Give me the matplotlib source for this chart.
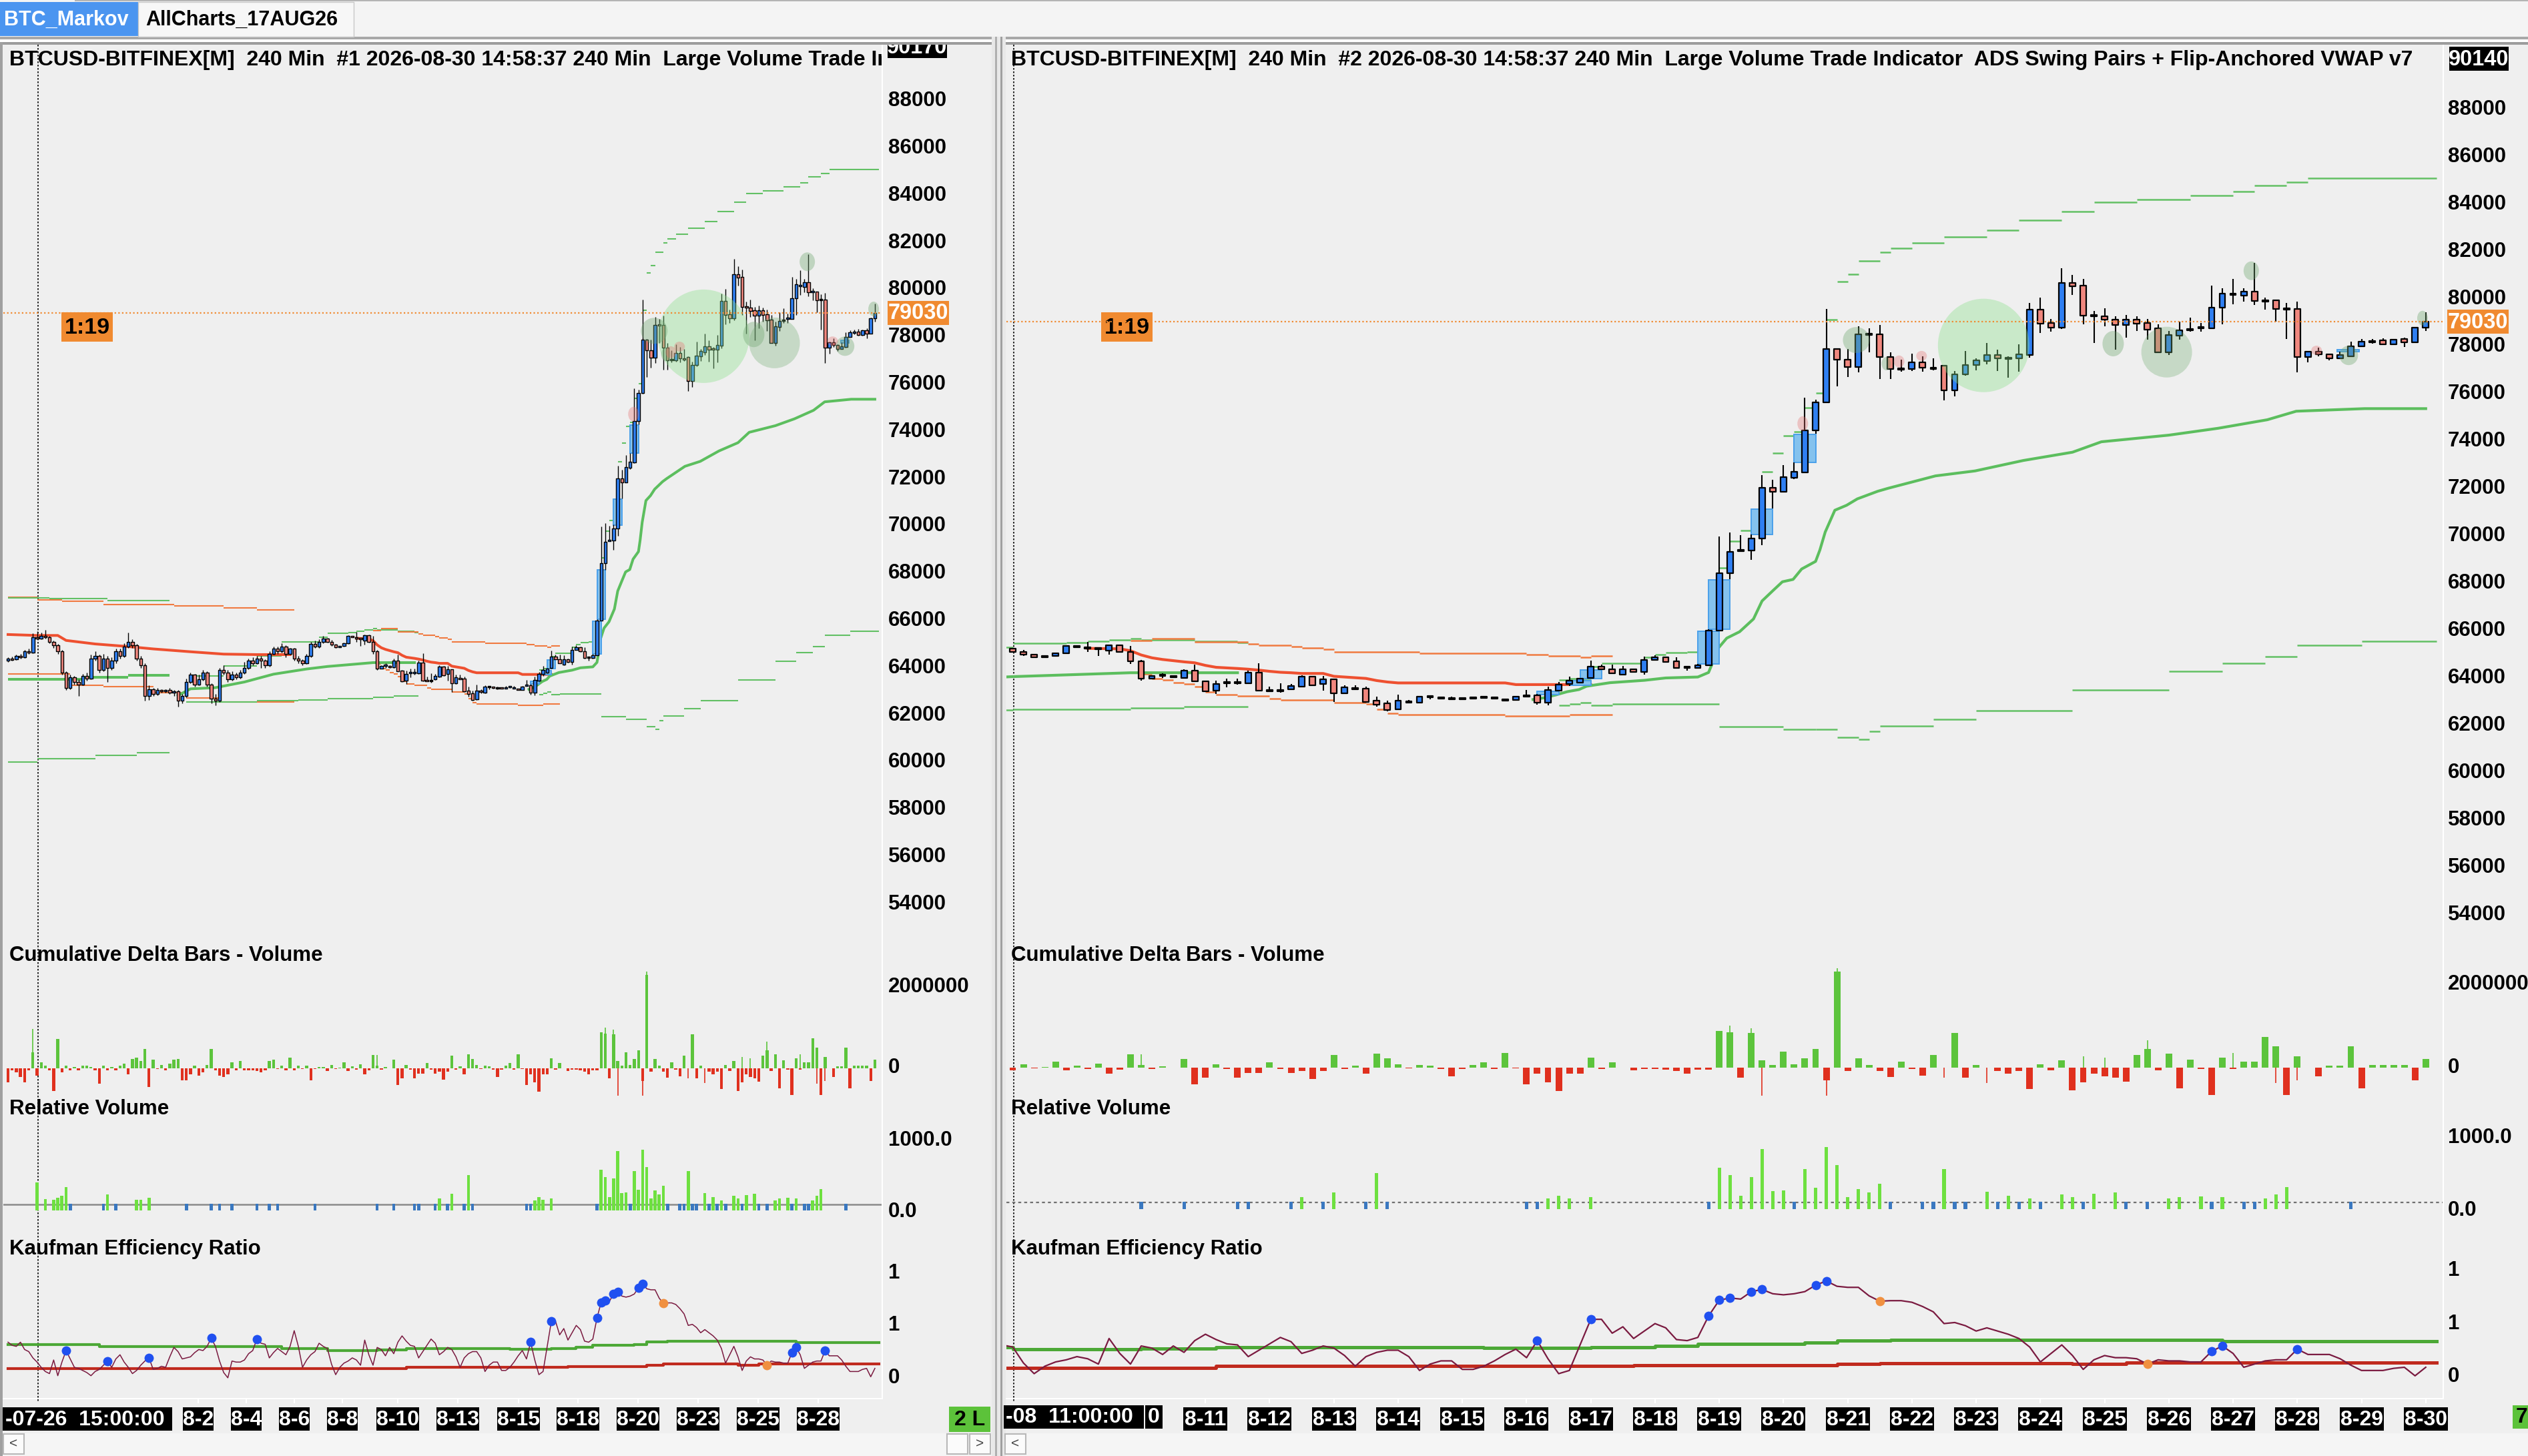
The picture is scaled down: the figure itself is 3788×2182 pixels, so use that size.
import matplotlib
matplotlib.use("Agg")
import matplotlib.pyplot as plt
from matplotlib.patches import Rectangle, Ellipse
from matplotlib.collections import PatchCollection, LineCollection
from matplotlib import font_manager as fm

# ======================= DATA =======================
# 4-hour BTCUSD bars. bar 0 = 2026-07-26 15:00, bar 77 = 2026-08-08 11:00, bar 209 = 2026-08-30 11:00
open_early = [64300,64400,64350,64500,64450,64700,64650,65300,65250,65350,
              65300,65100,64950,64700,63800,63150,63600,63400,63300,63650,
              63550,64400,64500,63900,64400,64000,64300,64700,64500,64900,
              65100,64950,64400,64100,62800,63100,62900,63050,63000,63050,
              62950,63000,62600,62800,63400,63700,63300,63500,63800,63300,
              62700,62600,63900,63800,63500,63700,63600,63800,64000,64300,
              64200,64400,64300,64100,64600,64800,64700,64900,64600,64800,
              64400,64300,64200,64500,65000,64900,65100]
close_early = [64400,64350,64500,64450,64700,64650,65300,65250,65350,65300,
               65100,64950,64700,63800,63150,63600,63400,63300,63650,63550,
               64400,64500,63900,64400,64000,64300,64700,64500,64900,65100,
               64950,64400,64100,62800,63100,62900,63050,63000,63050,62950,
               63000,62600,62800,63400,63700,63300,63500,63800,63300,62700,
               62600,63900,63800,63500,63700,63600,63800,64000,64300,64200,
               64400,64300,64100,64600,64800,64700,64900,64600,64800,64400,
               64300,64200,64500,65000,64900,65100,65250]
high_early = [64450,64480,64560,64600,64760,64800,65450,65550,65500,65600,
              65350,65150,65000,64750,63850,63700,63650,63500,63750,63800,
              64550,64700,64550,64600,64500,64450,64800,64800,65050,65500,
              65200,65000,64500,64200,63250,63150,63150,63100,63100,63150,
              63050,63050,62900,63550,63800,63750,63700,63900,63850,63350,
              62900,64000,64100,63900,63850,63800,63900,64250,64400,64450,
              64500,64500,64350,64700,64900,64900,65050,64950,64850,64850,
              64500,64350,64600,65100,65150,65200,65350]
low_early = [64250,64300,64320,64400,64420,64600,64620,65200,65200,65250,
             65050,64850,64600,63700,63050,63100,63300,62800,63250,63450,
             63500,64300,63800,63850,63400,63900,64200,64400,64450,64850,
             64850,64300,64000,62600,62650,62800,62850,62950,62950,62900,
             62800,62350,62500,62750,63350,63200,63250,63450,63200,62500,
             62400,62550,63700,63400,63450,63500,63550,63750,63950,64100,
             64150,64000,64000,64050,64550,64600,64650,64450,64550,64300,
             64200,64100,64150,64450,64850,64850,65050]

open_recent = [65230,65110,64990,64880,64920,65030,65320,65260,65250,65150,
               65390,65110,64710,63980,64100,64080,64010,64310,63870,63460,
               63780,63800,63770,64220,63480,63460,63510,63620,64050,63750,
               63930,63340,63560,63540,63030,62920,62670,63000,62950,63200,
               63180,63140,63140,63130,63190,63150,63090,63060,63240,63270,
               62950,63460,63740,63800,63990,64480,64370,64140,64370,64250,
               64770,64880,64700,64440,64420,64540,66010,68430,69380,69380,
               69890,72020,71860,72460,72690,74450,75630,77900,77430,77140,
               78510,78510,77550,77050,77030,77330,77080,77170,76140,76820,
               77200,77370,77620,77500,77480,77640,79540,78980,78790,80670,
               80550,79300,79260,79140,78900,79140,78980,78750,77760,78440,
               78700,78770,78770,79630,80180,80130,80320,79925,79930,79590,
               79590,77550,77780,77670,77490,77590,78000,78200,78240,78090,
               78300,78160,78800]
close_recent = [65110,64980,64860,64900,65050,65340,65300,65250,65240,65390,
                65110,64710,63960,64090,64120,64040,64310,63860,63440,63750,
                63800,63810,64220,63460,63460,63460,63650,64050,63680,63930,
                63340,63600,63540,62995,62880,62650,63030,62990,63210,63200,
                63150,63140,63130,63170,63200,63170,63070,63210,63260,62950,
                63480,63730,63900,63980,64480,64370,64200,64370,64250,64770,
                64880,64690,64420,64440,64540,66010,68430,69330,69400,69890,
                72020,71860,72490,72710,74450,75630,77900,77435,77140,78510,
                78500,77560,77030,77050,77330,77100,77070,76140,76830,77220,
                77400,77620,77480,77490,77670,79540,78950,78790,80670,80530,
                79290,79280,79120,78900,79140,78950,78710,77760,78470,78690,
                78700,78800,79640,80230,80190,80320,79910,79930,79570,79590,
                77550,77780,77660,77490,77620,78000,78190,78210,78090,78290,
                78160,78800,79030]
high_recent = [65260,65180,65020,64920,65070,65390,65330,65510,65270,65410,
               65400,65340,64750,64120,64200,64110,64380,64570,63900,63880,
               63960,63960,64300,64620,63640,63770,63750,64100,64080,64090,
               63950,63700,63700,63620,63200,63040,63300,63080,63250,63230,
               63190,63200,63170,63220,63230,63220,63100,63230,63480,63320,
               63630,63830,64070,64000,64730,64560,64570,64520,64400,64900,
               64960,64900,64880,64480,64580,66050,69970,70130,70020,70070,
               72550,72380,73000,73100,75820,75760,79590,77920,77900,78850,
               78760,78900,77740,77450,77690,77570,77500,77200,76960,77800,
               77500,78140,77860,77570,78080,79830,80050,79160,81300,81010,
               80850,79500,79600,79270,79320,79260,79150,78930,78650,79040,
               79210,78990,80560,80450,80840,80450,81520,80060,79930,79820,
               79880,77800,77950,77690,77780,78190,78300,78310,78350,78320,
               78360,78820,79430]
low_recent = [65080,64930,64840,64860,64900,65010,65280,65100,64920,64990,
              65080,64600,63900,63960,64000,64000,63990,63840,63400,63330,
              63600,63720,63740,63440,63430,63380,63480,63600,63660,63460,
              62990,63320,63520,62980,62780,62600,62650,62930,62930,63100,
              63130,63090,63110,63120,63140,63130,63060,63050,63230,62860,
              62840,63440,63650,63780,63960,64350,64180,64120,64230,64140,
              64760,64680,64400,64300,64400,64520,65990,68160,69360,69000,
              69600,71160,71840,72400,72670,74300,75610,76300,76700,76900,
              77750,76630,76630,76920,76970,76920,77000,75720,75900,76750,
              76980,77250,76960,76680,76920,77530,78550,78610,78720,80180,
              78940,78150,78840,77870,78380,78650,78270,77760,77640,78270,
              78610,78610,78770,78940,79780,79900,79740,79550,79050,78320,
              76910,77310,77580,77400,77490,77540,78000,78110,78050,78050,
              77960,78160,78660]

last_price = 79030

# cumulative delta per bar (thousands)
delta_early = [-350,-65,-105,-230,-350,-65,385,-190,140,60,
               -65,-560,710,-105,60,-50,30,-50,60,60,
               30,-65,-380,60,-65,30,-50,60,100,-150,
               220,260,180,470,-475,200,-25,75,-65,100,
               200,220,-310,-310,-150,60,-190,-105,75,470,
               -65,-190,-230,-150,140,-65,180,-65,-65,-65,
               -80,-105,-65,180,200,-25,60,-65,260,-65,
               60,-25,60,-310,-25,30,30]
delta_recent = [-80,80,-24,16,136,-80,40,-40,96,-160,
                -64,320,56,-40,24,-16,200,-416,-256,80,
                -40,-256,-144,-144,120,-40,-144,-96,-280,-96,
                304,-40,40,-160,336,224,80,-24,56,40,
                -40,-224,-40,56,120,-40,344,-24,-416,-160,
                -360,-576,-160,-160,240,-40,120,-16,-80,-40,
                -40,-64,-96,-160,-64,-64,880,840,-256,824,
                176,56,384,80,224,440,-320,2300,-96,216,
                56,-96,-240,136,-40,-200,304,-16,824,-256,
                64,-16,-96,-160,-96,-520,80,-80,176,-560,
                -360,-160,-224,-256,-344,304,440,-80,336,-504,
                192,-40,-672,240,-40,144,144,736,504,-672,
                264,-16,-224,40,40,504,-504,56,56,56,
                56,-320,200]
delta_ext_bars = [6, 89, 144, 146, 147, 153, 154, 164, 168, 177, 179, 183, 191, 195, 197]
delta_ext_vals = [960, 320, 1000, 940, -680, -680, 2380, -256, -376, 272, 240, 656, 344, -384, -320]

# relative volume
relvol_early = [0,0,0,0,0,0,0,400,0,165,
                0,150,180,212,330,100,0,0,0,0,
                0,0,0,100,226,0,100,0,0,0,
                0,150,150,0,180,0,0,0,0,0,
                0,0,0,100,0,0,0,0,0,100,
                0,100,0,0,100,0,0,0,0,0,
                100,0,0,100,0,100,0,0,0,0,
                0,0,0,0,100,0,0]
relvol_recent = [0,0,0,0,0,0,0,0,0,0,
                 0,0,100,0,0,0,100,0,0,0,
                 0,100,100,0,0,0,100,168,0,100,
                 238,0,0,100,504,100,0,0,0,0,
                 0,0,0,0,0,0,0,0,100,100,
                 145,191,154,0,168,0,0,0,0,0,
                 0,0,0,0,0,100,584,477,191,453,
                 844,252,261,100,565,299,868,617,168,285,
                 229,355,100,0,0,100,100,561,100,100,
                 0,247,100,191,100,145,100,0,205,168,
                 100,215,0,238,100,0,100,0,145,168,
                 0,182,100,168,0,100,100,145,205,308,
                 0,0,0,0,0,100,0,0,0,0,
                 0,0,0]

# Kaufman efficiency ratio
ker_early = [0.34,0.31,0.30,0.34,0.27,0.25,0.19,0.15,0.10,0.06,
             0.04,0.17,0.02,0.15,0.26,0.18,0.10,0.09,0.07,0.05,
             0.02,0.06,0.08,0.12,0.16,0.10,0.18,0.22,0.15,0.10,
             0.04,0.07,0.12,0.16,0.19,0.08,0.09,0.11,0.10,0.20,
             0.29,0.25,0.18,0.19,0.20,0.24,0.27,0.26,0.30,0.38,
             0.30,0.16,0.05,0.00,0.16,0.15,0.15,0.17,0.23,0.26,
             0.37,0.33,0.32,0.19,0.24,0.28,0.25,0.22,0.30,0.45,
             0.30,0.10,0.17,0.22,0.25,0.33,0.30]
ker_recent = [0.28,0.13,0.03,0.10,0.14,0.16,0.19,0.17,0.12,0.36,
              0.22,0.12,0.29,0.27,0.21,0.29,0.23,0.34,0.40,0.35,
              0.31,0.30,0.19,0.25,0.31,0.37,0.33,0.22,0.25,0.29,
              0.27,0.20,0.10,0.19,0.23,0.25,0.25,0.19,0.06,0.12,
              0.15,0.15,0.07,0.07,0.10,0.15,0.21,0.26,0.18,0.34,
              0.17,0.03,0.06,0.30,0.54,0.54,0.41,0.47,0.36,0.43,
              0.50,0.46,0.35,0.34,0.37,0.57,0.72,0.74,0.73,0.80,
              0.82,0.78,0.77,0.78,0.80,0.86,0.90,0.85,0.84,0.84,
              0.76,0.71,0.715,0.715,0.70,0.66,0.61,0.50,0.51,0.48,
              0.43,0.46,0.43,0.40,0.36,0.28,0.14,0.22,0.30,0.20,
              0.07,0.16,0.20,0.18,0.18,0.17,0.12,0.16,0.15,0.15,
              0.14,0.14,0.24,0.29,0.22,0.09,0.12,0.15,0.16,0.16,
              0.26,0.21,0.21,0.21,0.17,0.11,0.06,0.06,0.06,0.08,
              0.09,0.01,0.09]
ker_hi_bars = [0, 22, 66, 77, 89, 96, 121, 131, 137, 141, 151, 154, 159, 190, 210]
ker_hi_vals = [0.315, 0.30, 0.28, 0.26, 0.265, 0.28, 0.27, 0.28, 0.29, 0.31, 0.32, 0.34, 0.35, 0.335, 0.335]
ker_lo_bars = [0, 96, 135, 154, 158, 176, 181, 210]
ker_lo_vals = [0.085, 0.10, 0.11, 0.12, 0.13, 0.12, 0.135, 0.135]
ker_up_dots = [14, 24, 34, 49, 60, 126, 131, 142, 143, 144, 146, 147, 152, 153, 189, 190, 197]
ker_dn_dots = [158, 183]

# anchored VWAP lines (bar, price)
red1_bars = [0, 7, 12, 14, 21, 29, 35, 44, 52, 60, 68]
red1_vals = [65410, 65370, 65370, 65160, 65010, 64900, 64800, 64680, 64580, 64560, 64560]
red2_bars = [84, 87, 88, 89, 90, 91, 92, 93, 94, 95, 96, 98, 99, 100, 101, 102, 103, 104, 106,
             107, 108, 109, 110, 111, 112, 113, 123, 124, 131]
red2_vals = [65250, 65230, 65150, 64970, 64850, 64780, 64730, 64680, 64640, 64530, 64450, 64400,
             64370, 64330, 64280, 64240, 64220, 64190, 64190, 64070, 64040, 64010, 63980, 63890,
             63830, 63790, 63790, 63720, 63720]
green1_bars = [0, 18, 29, 39]
green1_vals = [63515, 63585, 63690, 63690]
green2_bars = [41, 44, 50, 57, 64, 72, 77, 82, 86, 88, 98]
green2_vals = [62830, 63110, 63160, 63400, 63730, 63950, 64056, 64130, 64190, 64220, 64220]
green3_bars = [125.6, 126.6, 127.7, 128.8, 129.9, 130.6, 132.8, 136, 138, 141, 142, 142.4, 142.8,
               143.7, 144.9, 146.2, 147, 148, 148.9, 149.9, 150.7, 152, 152.4, 152.9, 153.8, 154.9,
               155.9, 157.8, 158.8, 163.2, 166.9, 171.4, 176, 178.7, 185, 189.6, 194.2, 196.9,
               203.3, 209]
green3_vals = [63090, 63160, 63280, 63420, 63510, 63650, 63800, 63900, 64000, 64040, 64230, 64660,
               65200, 65680, 65950, 66490, 67250, 67680, 68060, 68160, 68600, 68920, 69400, 70160,
               71080, 71290, 71560, 71880, 72010, 72530, 72740, 73180, 73530, 73970, 74250, 74540,
               74900, 75260, 75370, 75370]

# band steps (bar, price)
up_or1_bars = [0, 7, 13, 23, 40, 52, 60, 69]
up_or1_vals = [66980, 66870, 66825, 66680, 66625, 66540, 66440, 66440]
up_gr1_bars = [0, 10, 24, 39]
up_gr1_vals = [66970, 66940, 66840, 66840]
lo_or1_bars = [0, 15, 23, 35, 43, 51, 69]
lo_or1_vals = [63730, 63260, 63200, 62940, 62730, 62545, 62545]
lo_gr1_bars = [0, 7, 21, 31, 39]
lo_gr1_vals = [60020, 60160, 60300, 60400, 60400]
up_gr2_bars = [44, 52, 60, 66, 75, 77, 82, 84, 86, 88, 89, 94, 98, 99]
up_gr2_vals = [63660, 64090, 64510, 65110, 65300, 65455, 65500, 65560, 65615, 65670, 65615, 65560,
               65500, 65500]
lo_gr2_bars = [43, 60, 70, 77, 88, 93, 99]
lo_gr2_vals = [62545, 62600, 62650, 62685, 62740, 62797, 62797]
up_or2_bars = [88, 90, 94, 99, 100, 103, 104, 106, 107, 115, 125, 127, 130, 131, 133]
up_or2_vals = [65580, 65670, 65510, 65445, 65390, 65333, 65277, 65220, 65108, 65050, 64995, 64940,
               64880, 64940, 64940]
lo_or2_bars = [89, 90, 91, 92, 93, 94, 95, 96, 98, 101, 102, 107, 110, 111, 112, 113, 123, 129, 133]
lo_or2_vals = [64170, 63980, 63915, 63810, 63750, 63640, 63418, 63305, 63250, 63136, 63080, 62967,
               62900, 62685, 62516, 62460, 62403, 62460, 62460]
lo_gr3_bars = [128, 129, 130, 131, 133, 143, 149, 152, 154, 156, 157, 158, 163, 167, 176, 185, 190,
               194, 197, 203, 210]
lo_gr3_vals = [62854, 62910, 62967, 62854, 62900, 61930, 61830, 61830, 61500, 61400, 61750, 61970,
               62260, 62615, 63480, 64270, 64630, 64910, 65390, 65560, 65630]
up_gr3_bars = [128, 129, 131, 132, 136, 137, 138, 140, 142, 143, 144, 145, 146, 147, 148, 149, 150,
               151, 152, 153, 154, 155, 156, 158, 159, 161, 164, 168, 171, 175, 178, 182, 187, 191,
               193, 196, 198, 210]
up_gr3_vals = [63915, 63980, 64480, 64620, 64880, 64980, 65060, 65110, 65500, 68650, 69780, 70230,
               70910, 72710, 73500, 74230, 74400, 75420, 76030, 79140, 80720, 81030, 81600, 81980,
               82150, 82370, 82610, 82900, 83330, 83700, 84090, 84200, 84370, 84540, 84790, 84930,
               85100, 85100]

# swing-pair circles (bar, price)
circ_bars = [167.7, 184.8, 179.8, 192.7, 155.8, 208.7, 201.8, 158.6, 159.8, 161.9, 198.8, 150.8]
circ_prices = [78037, 77755, 78112, 81190, 78265, 79190, 77615, 77270, 77360, 77596, 77830, 74740]

# large volume trade boxes (bar, low price, high price)
lv_bars = [127, 130, 131, 142, 143, 147, 151, 201.75]
lv_lo = [63305, 63700, 63960, 64590, 66060, 70050, 73090, 77765]
lv_hi = [63437, 63890, 64340, 65960, 68140, 71130, 74290, 77860]

price_ticks = list(range(54000, 90000, 2000))
left_tick_labels = ['8-2', '8-4', '8-6', '8-8', '8-10', '8-13', '8-15', '8-18', '8-20', '8-23', '8-25', '8-28']
right_tick_labels = ['8-11', '8-12', '8-13', '8-14', '8-15', '8-16', '8-17', '8-18', '8-19', '8-20',
                     '8-21', '8-22', '8-23', '8-24', '8-25', '8-26', '8-27', '8-28', '8-29', '8-30']

# ======================= STYLE / LAYOUT =======================
opens = open_early + open_recent
closes = close_early + close_recent
highs = high_early + high_recent
lows = low_early + low_recent
deltas = delta_early + delta_recent
relvol = relvol_early + relvol_recent
ker = ker_early + ker_recent
NB = len(closes)

circ_w_px = [137, 76, 32, 23, 40, 16, 28, 14, 16, 16, 16, 16]
circ_h_px = [140, 76, 38, 28, 39, 22, 29, 20, 18, 15, 14, 22]
circ_col = ['big', 'mid', 'sm', 'sm', 'sm', 'sm', 'sm', 'sm', 'pink', 'pink', 'pink', 'pink']
CIRC_COLORS = {'big': (0.55, 0.88, 0.55, 0.38), 'mid': (0.45, 0.68, 0.45, 0.33),
               'sm': (0.45, 0.66, 0.45, 0.38), 'pink': (0.90, 0.45, 0.45, 0.35)}
left_tick_px = [297, 369, 441, 513, 596, 686, 777, 866, 956, 1046, 1136, 1226]

W, H = 3788, 2182
names = {f.name for f in fm.fontManager.ttflist}
BASE = 'Liberation Sans' if 'Liberation Sans' in names else 'DejaVu Sans'
plt.rcParams['font.family'] = [BASE, 'DejaVu Sans']

UP, DN = '#2f7ff2', '#f0877e'
RED_T, GREEN_T = '#ee5030', '#5cbe5e'
OR_B, GR_B = '#f07a40', '#62c064'
ORANGE = '#f08a30'
PANEL_BG = '#efefef'
AXFS = 22.5

fig = plt.figure(figsize=(W / 100, H / 100), dpi=100)
fig.patch.set_facecolor('#f4f4f4')
bg = fig.add_axes([0, 0, 1, 1])
bg.set_xlim(0, W)
bg.set_ylim(H, 0)
bg.axis('off')
bg.set_zorder(-5)


def rect(x0, y0, x1, y1, color, ec='none', lw=0, z=1):
    bg.add_patch(Rectangle((x0, y0), x1 - x0, y1 - y0, facecolor=color, edgecolor=ec, linewidth=lw, zorder=z))


# window chrome
rect(0, 0, W, 55, '#f4f4f4')
rect(112, 0, W, 2, '#b4b4b4')
rect(0, 55, W, 59, '#a8a8a8')
rect(0, 59, W, 63, '#ffffff')
rect(0, 63, W, 67, '#9c9c9c')
rect(0, 67, 1488, 2148, PANEL_BG)
rect(0, 63, 4, 2182, '#a0a0a0')
rect(1507, 67, W, 2148, PANEL_BG)
rect(1486, 55, 1507, 2182, '#e8e8e8')
rect(1491, 55, 1494, 2182, '#b0b0b0')
rect(1499, 55, 1502, 2182, '#a0a0a0')
rect(4, 2148, 1486, 2182, '#f5f5f5')
rect(1507, 2148, W, 2182, '#f5f5f5')
# tabs
rect(0, 3, 207, 54, '#4b95f0')
bg.text(6, 30, 'BTC_Markov', color='white', fontsize=22, fontweight='bold', va='center', ha='left')
rect(207, 3, 530, 55, '#f7f7f7', ec='#c8c8c8', lw=1)
bg.text(218, 30, 'AllCharts_17AUG26', color='black', fontsize=22, fontweight='bold', va='center', ha='left')
# axis column dividers & x-axis top line
for xd in (1321, 3660):
    rect(xd, 67, xd + 2, 2097, '#ffffff')
rect(4, 2095, 1321, 2097, '#ffffff')
rect(1507, 2095, 3660, 2097, '#ffffff')
# scrollbar buttons
for (x0, x1, ch) in [(5, 36, '<'), (1419, 1450, ''), (1453, 1484, '>'), (1506, 1537, '<')]:
    bg.add_patch(Rectangle((x0, 2149), x1 - x0, 30, facecolor='#fbfbfb', edgecolor='#b8b8b8', linewidth=1.5, zorder=2))
    if ch:
        bg.text((x0 + x1) / 2, 2164, ch, ha='center', va='center', fontsize=15, color='#444', zorder=3)


def sub_axes(x0, x1, y0, y1, xlim, v0, py0, k):
    ax = fig.add_axes([x0 / W, 1 - y1 / H, (x1 - x0) / W, (y1 - y0) / H])
    ax.axis('off')
    ax.set_xlim(*xlim)
    ax.set_ylim(v0 - (y1 - py0) / k, v0 + (py0 - y0) / k)
    return ax


def steps(ax, bx, vals, color, lw, z=2):
    segs = [[(bx[i], vals[i]), (bx[i + 1], vals[i])] for i in range(len(bx) - 1)]
    ax.add_collection(LineCollection(segs, colors=color, linewidths=lw, zorder=z, capstyle='butt'))


def panel(side):
    if side == 'L':
        X0, X1, xb0, ppb, b0 = 5, 1321, 12.0, 6.215, 0
        pref, ppx = 434.4, 0.0354
        dref, dk = 1600.5, 0.06085
        rref, rk = 1814, 0.105
        kref, kk = 2064.8, 157.0
        body_w, edge_lw, wick_lw, band_lw, thick_lw = 0.72, 1.0, 1.0, 1.5, 2.9
        lab_x = 1331
        title = 'BTCUSD-BITFINEX[M]  240 Min  #1 2026-08-30 14:58:37 240 Min  Large Volume Trade In'
        tx = 14
    else:
        X0, X1, xb0, ppb, b0 = 1508, 3660, 1517.5, 16.04, 77
        pref, ppx = 448.0, 0.0355
        dref, dk = 1599.5, 0.06235
        rref, rk = 1812, 0.107
        kref, kk = 2063.4, 159.7
        body_w, edge_lw, wick_lw, band_lw, thick_lw = 0.55, 1.6, 1.5, 1.8, 3.0
        lab_x = 3668
        title = 'BTCUSD-BITFINEX[M]  240 Min  #2 2026-08-30 14:58:37 240 Min  Large Volume Trade Indicator  ADS Swing Pairs + Flip-Anchored VWAP v7'
        tx = 1515
    xlim = (b0 + (X0 - xb0) / ppb, b0 + (X1 - xb0) / ppb)
    bpx = lambda b: xb0 + (b - b0) * ppb
    py = lambda p: pref + (80000 - p) * ppx

    # ---------- price ----------
    ax = sub_axes(X0, X1, 67, 1405, xlim, 80000, pref, ppx)
    for bx, vv, c in [(up_or1_bars, up_or1_vals, OR_B), (lo_or1_bars, lo_or1_vals, OR_B),
                      (up_gr1_bars, up_gr1_vals, GR_B), (lo_gr1_bars, lo_gr1_vals, GR_B),
                      (up_gr2_bars, up_gr2_vals, GR_B), (lo_gr2_bars, lo_gr2_vals, GR_B),
                      (up_or2_bars, up_or2_vals, OR_B), (lo_or2_bars, lo_or2_vals, OR_B),
                      (lo_gr3_bars, lo_gr3_vals, GR_B), (up_gr3_bars, up_gr3_vals, GR_B)]:
        steps(ax, bx, vv, c, band_lw)
    ax.plot(red1_bars, red1_vals, color=RED_T, lw=thick_lw, zorder=3)
    ax.plot(red2_bars, red2_vals, color=RED_T, lw=thick_lw, zorder=3)
    steps(ax, green1_bars, green1_vals, GREEN_T, thick_lw, z=3)
    ax.plot(green2_bars, green2_vals, color=GREEN_T, lw=thick_lw, zorder=3)
    ax.plot(green3_bars, green3_vals, color=GREEN_T, lw=thick_lw, zorder=3)
    for b, lo, hi in zip(lv_bars, lv_lo, lv_hi):
        ax.add_patch(Rectangle((b - 1.0, lo), 2.0, hi - lo, facecolor='#84c2ee', edgecolor='#4aa0ea',
                               linewidth=1.4, zorder=3.5))
    segs, rects, fcs = [], [], []
    minh = 2.0 / ppx
    for b in range(NB):
        o, h, l, c = opens[b], highs[b], lows[b], closes[b]
        segs.append([(b, l), (b, h)])
        lo_b = min(o, c)
        hgt = abs(c - o)
        if hgt < minh:
            lo_b -= (minh - hgt) / 2
            hgt = minh
        rects.append(Rectangle((b - body_w / 2, lo_b), body_w, hgt))
        fcs.append(UP if c > o else (DN if c < o else 'black'))
    ax.add_collection(LineCollection(segs, colors='black', linewidths=wick_lw, zorder=3.9))
    ax.add_collection(PatchCollection(rects, facecolors=fcs, edgecolors='black', linewidths=edge_lw, zorder=4))
    for b, p, w, hh, kind in zip(circ_bars, circ_prices, circ_w_px, circ_h_px, circ_col):
        ax.add_patch(Ellipse((b, p), w / ppb, hh / ppx, facecolor=CIRC_COLORS[kind], edgecolor='none', zorder=5))
    ax.axhline(last_price, color=ORANGE, lw=1.6, ls=(0, (1, 1.5)), zorder=6)
    ax.text(tx, 90, title, transform=bg.transData, fontsize=23, fontweight='bold', va='center', ha='left',
            clip_on=True, zorder=7)
    if side == 'R':
        bg.plot([1512, 3656], [88, 88], color='#666', lw=1.0, ls=(0, (1, 2)), zorder=0)

    for p in price_ticks:
        bg.text(lab_x, py(p), str(p), fontsize=AXFS, fontweight='bold', va='center', ha='left')
    yl = py(last_price)
    rect(lab_x - 1, yl - 18, lab_x + 91, yl + 18, ORANGE, z=3)
    bg.text(lab_x + 45, yl + 1, str(last_price), color='white', fontsize=23.5, fontweight='bold',
            ha='center', va='center', zorder=4)
    bx19 = 92 if side == 'L' else 1650
    rect(bx19, 468, bx19 + 77, 512, ORANGE, z=3)
    bg.text(bx19 + 38.5, 491, '1:19', color='black', fontsize=24.5, fontweight='bold',
            ha='center', va='center', zorder=4)

    # ---------- delta ----------
    axd = sub_axes(X0, X1, 1405, 1655, xlim, 0, dref, dk)
    bars = list(range(NB))
    axd.vlines(delta_ext_bars, 0, delta_ext_vals, colors=['#5cc43c' if v > 0 else '#e0301e' for v in delta_ext_vals],
               linewidth=1.2, zorder=2)
    axd.bar(bars, deltas, width=(0.62 if side == 'R' else 0.7),
            color=['#5cc43c' if v >= 0 else '#e0301e' for v in deltas], zorder=3, linewidth=0)
    bg.text(lab_x, dref - 2000 * dk, '2000000', fontsize=AXFS, fontweight='bold', va='center', ha='left')
    bg.text(lab_x, dref, '0', fontsize=AXFS, fontweight='bold', va='center', ha='left')
    bg.text(tx, 1432, 'Cumulative Delta Bars - Volume', fontsize=22.5, fontweight='bold', va='center', ha='left')

    # ---------- relative volume ----------
    axr = sub_axes(X0, X1, 1655, 1850, xlim, 0, rref, rk)
    if side == 'R':
        axr.axhline(90, color='#707070', lw=1.6, ls=(0, (2, 2)), zorder=1)
    else:
        axr.axhline(90, color='#8a8a8a', lw=1.8, zorder=1)
    rv_b = [b for b in bars if relvol[b] > 0]
    rv_v = [relvol[b] for b in rv_b]
    axr.bar(rv_b, rv_v, width=(0.32 if side == 'R' else 0.75),
            color=['#3a78c0' if v <= 110 else '#6ee040' for v in rv_v], zorder=2, linewidth=0)
    bg.text(lab_x, rref - 1000 * rk, '1000.0', fontsize=AXFS, fontweight='bold', va='center', ha='left')
    bg.text(lab_x, rref + 2, '0.0', fontsize=AXFS, fontweight='bold', va='center', ha='left')
    bg.text(tx, 1662, 'Relative Volume', fontsize=22.5, fontweight='bold', va='center', ha='left')

    # ---------- Kaufman ER ----------
    axk = sub_axes(X0, X1, 1850, 2095, xlim, 0, kref, kk)
    axk.plot(ker_hi_bars, ker_hi_vals, drawstyle='steps-post', color='#4ca836', lw=(3.6 if side == 'R' else 3.0), zorder=2)
    axk.plot(ker_lo_bars, ker_lo_vals, drawstyle='steps-post', color='#c02a1e', lw=(3.6 if side == 'R' else 3.0), zorder=2)
    axk.plot(bars, ker, color='#7a1a40', lw=(1.6 if side == 'R' else 1.1), zorder=3)
    axk.plot(ker_up_dots, [ker[b] for b in ker_up_dots], 'o', color='#2050f0', ms=10, mec='none', zorder=4)
    axk.plot(ker_dn_dots, [ker[b] for b in ker_dn_dots], 'o', color='#f09040', ms=10, mec='none', zorder=4)
    for v, s in [(1.0, '1'), (0.5, '1'), (0.0, '0')]:
        bg.text(lab_x, kref - v * kk, s, fontsize=AXFS, fontweight='bold', va='center', ha='left')
    bg.text(tx, 1872, 'Kaufman Efficiency Ratio', fontsize=22.5, fontweight='bold', va='center', ha='left')
    return bpx


bpx_L = panel('L')
bpx_R = panel('R')

# vertical dotted cursor lines
for xv in (57, 1519):
    bg.plot([xv, xv], [67, 2101], color='black', lw=1.2, ls=(0, (1.5, 1.5)), zorder=8)

# top axis boxes
rect(1330, 67, 1419, 87, 'black', z=3)
clip_ax = fig.add_axes([1323 / W, 1 - 87 / H, 160 / W, 20 / H])
clip_ax.axis('off')
clip_ax.text(1374, 72, '90170', transform=bg.transData, color='white', fontsize=23.5,
             fontweight='bold', ha='center', va='center', clip_on=True)
rect(3670, 70, 3759, 106, 'black', z=3)
bg.text(3714.5, 89, '90140', color='white', fontsize=23.5, fontweight='bold',
        ha='center', va='center', zorder=4)

# x-axis labels
XFS = 23
XY0, XY1 = 2109, 2144


def xbox(xc, label, width=None):
    w = width if width else (46 if len(label) == 3 else 64)
    rect(xc - w / 2, XY0, xc + w / 2, XY1, 'black', z=3)
    rect(xc - 1, 2097, xc + 1, 2103, '#ffffff', z=3)
    bg.text(xc, (XY0 + XY1) / 2 + 1, label, color='white', fontsize=XFS, fontweight='bold',
            ha='center', va='center', zorder=4)


rect(4, XY0, 258, XY1, 'black', z=3)
bg.text(8, (XY0 + XY1) / 2 + 1, '-07-26  15:00:00', color='white', fontsize=XFS, fontweight='bold',
        ha='left', va='center', zorder=4)
for xc, lab in zip(left_tick_px, left_tick_labels):
    xbox(xc, lab)
rect(1504, XY0 - 3, 1714, XY1 - 3, 'black', z=3)
bg.text(1507, (XY0 + XY1) / 2 - 2, '-08  11:00:00', color='white', fontsize=XFS, fontweight='bold',
        ha='left', va='center', zorder=4)
rect(1716, XY0 - 3, 1742, XY1 - 3, 'black', z=3)
bg.text(1729, (XY0 + XY1) / 2 - 2, '0', color='white', fontsize=XFS, fontweight='bold',
        ha='center', va='center', zorder=4)
for k, lab in enumerate(right_tick_labels):
    xbox(bpx_R(95 + 6 * k), lab, width=66)
# green status boxes
rect(1422, 2108, 1484, 2146, '#5cc23a', z=3)
bg.text(1453, 2128, '2 L', color='black', fontsize=XFS, fontweight='bold',
        ha='center', va='center', zorder=4)
rect(3765, 2106, W, 2141, '#5cc23a', z=3)
bg.text(3770, 2124, '7', color='black', fontsize=XFS, fontweight='bold',
        ha='left', va='center', zorder=4)

fig.savefig('out.png', dpi=100, facecolor=fig.get_facecolor())
